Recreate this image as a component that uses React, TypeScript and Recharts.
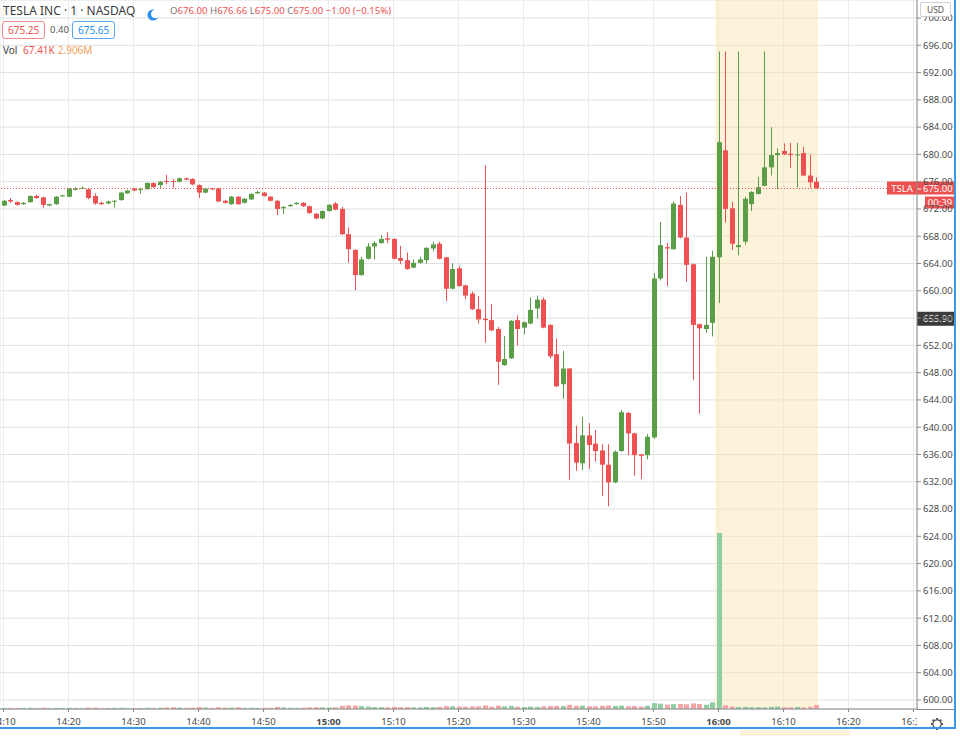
import React from 'react';
import {
  ComposedChart,
  Bar,
  XAxis,
  YAxis,
  CartesianGrid,
  ReferenceArea,
  ReferenceLine,
} from 'recharts';

// ---------- DATA ----------
// one-minute candles, index 0 = 14:10
const START_MINUTE = 14 * 60 + 10;

const OPEN = [
  672.5, 673.3, 673.0, 672.7, 673.0, 673.9, 673.7, 672.5, 672.7, 673.9,
  673.8, 674.8, 675.0, 674.9, 673.9, 672.9, 672.8, 673.1, 673.3, 674.3,
  675.0, 674.8, 674.9, 675.8, 675.5, 676.1, 676.1, 676.0, 676.5, 676.4,
  675.5, 674.4, 675.0, 675.0, 673.2, 672.7, 673.8, 672.9, 673.4, 674.3,
  674.4, 673.8, 673.2, 672.1, 672.4, 672.7, 672.9, 672.4, 671.3, 670.6,
  671.7, 672.8, 672.0, 668.3, 666.0, 662.3, 664.7, 666.5, 667.0, 667.7,
  667.6, 664.8, 664.5, 663.4, 664.1, 664.5, 666.2, 666.9, 664.9, 660.3,
  663.3, 660.8, 659.6, 657.3, 655.9, 655.7, 654.4, 649.1, 650.1, 655.7,
  654.6, 655.2, 657.4, 658.7, 655.0, 650.7, 646.3, 648.6, 637.7, 634.7,
  638.8, 637.6, 636.6, 634.5, 631.9, 636.5, 642.1, 639.1, 636.0, 635.9,
  638.5, 661.8, 666.4, 666.1, 672.6, 667.8, 663.9, 655.1, 654.4, 655.3,
  664.9, 680.6, 672.1, 666.4, 667.2, 672.7, 674.2, 675.4, 678.1, 679.9,
  680.5, 680.1, 679.9, 680.2, 676.9, 676.0,
];
const HIGH = [
  673.3, 673.6, 673.1, 673.0, 674.0, 674.1, 673.8, 672.8, 673.9, 674.1,
  675.1, 675.2, 675.3, 675.0, 674.3, 673.1, 673.2, 673.3, 674.5, 674.8,
  675.1, 675.1, 675.9, 675.9, 676.1, 677.0, 676.4, 676.6, 676.6, 676.5,
  675.6, 675.1, 675.1, 675.1, 673.3, 673.9, 673.9, 673.6, 674.3, 674.7,
  674.5, 673.9, 673.3, 672.4, 672.7, 673.0, 673.0, 672.5, 671.4, 671.8,
  672.7, 673.0, 672.3, 669.3, 666.1, 665.0, 667.0, 667.3, 668.2, 668.6,
  667.7, 666.6, 665.6, 664.6, 665.0, 666.4, 667.2, 667.2, 665.0, 664.0,
  663.6, 660.9, 659.9, 659.2, 678.4, 658.1, 654.7, 653.4, 655.7, 656.4,
  655.5, 659.0, 659.3, 659.0, 655.1, 653.0, 651.2, 648.7, 640.2, 641.5,
  640.6, 639.6, 637.5, 637.5, 636.6, 642.5, 642.2, 639.2, 636.1, 639.0,
  662.6, 670.1, 667.0, 673.1, 673.9, 674.4, 664.0, 655.2, 665.0, 665.9,
  695.1, 695.1, 673.0, 695.1, 673.8, 674.6, 676.7, 695.1, 684.0, 680.9,
  681.6, 681.7, 681.7, 681.1, 680.0, 676.66,
];
const LOW = [
  672.4, 672.9, 672.5, 672.6, 672.9, 673.5, 672.2, 672.4, 672.6, 673.8,
  673.7, 674.7, 674.9, 673.4, 672.6, 672.6, 672.7, 672.2, 673.2, 674.2,
  674.6, 674.2, 674.8, 675.1, 675.1, 675.6, 675.1, 675.9, 676.2, 675.5,
  673.6, 674.3, 674.8, 673.0, 672.8, 672.6, 672.6, 672.8, 673.3, 674.2,
  673.8, 673.1, 671.1, 671.2, 672.3, 672.6, 672.3, 671.3, 670.5, 670.5,
  671.6, 671.8, 668.2, 664.1, 660.1, 662.2, 664.6, 664.6, 666.9, 667.0,
  664.6, 663.9, 663.1, 663.3, 664.0, 664.0, 665.8, 664.6, 658.5, 660.2,
  660.6, 658.8, 657.2, 655.2, 652.4, 654.1, 646.2, 649.0, 650.0, 652.0,
  653.6, 655.1, 655.9, 654.5, 650.1, 645.9, 644.2, 632.3, 633.6, 633.7,
  633.9, 635.0, 629.9, 628.4, 631.8, 636.4, 635.9, 632.9, 632.4, 635.3,
  638.3, 661.5, 660.7, 666.0, 667.7, 661.3, 646.9, 642.0, 653.8, 653.3,
  658.2, 670.0, 666.0, 665.2, 666.7, 671.7, 674.1, 675.3, 676.9, 674.9,
  679.9, 678.0, 675.1, 676.8, 675.1, 675.0,
];
const CLOSE = [
  673.2, 673.1, 672.6, 672.9, 673.9, 673.6, 672.6, 672.7, 673.8, 674.0,
  675.0, 675.0, 675.1, 673.6, 672.8, 672.7, 673.1, 673.2, 674.4, 674.7,
  674.7, 674.9, 675.8, 675.2, 676.0, 676.0, 676.0, 676.5, 676.3, 675.6,
  674.4, 675.0, 674.9, 673.1, 672.9, 673.8, 672.7, 673.5, 674.2, 674.5,
  673.9, 673.2, 672.0, 672.3, 672.6, 672.9, 672.4, 671.4, 670.6, 671.7,
  672.6, 671.9, 668.3, 666.1, 662.3, 664.6, 666.5, 667.0, 667.6, 667.5,
  664.7, 664.4, 663.2, 664.1, 664.6, 666.3, 666.8, 664.7, 660.3, 663.2,
  660.7, 659.3, 657.3, 655.8, 655.7, 654.2, 649.6, 650.0, 655.6, 654.4,
  655.4, 657.2, 658.7, 654.6, 650.4, 646.0, 648.6, 637.6, 634.8, 638.8,
  637.4, 636.5, 634.5, 631.9, 636.4, 642.2, 639.1, 635.9, 635.8, 638.6,
  661.8, 666.7, 666.2, 672.8, 667.8, 663.8, 655.0, 654.5, 655.0, 665.0,
  681.8, 672.0, 666.9, 666.7, 673.5, 674.5, 675.2, 678.1, 679.9, 680.2,
  680.0, 679.9, 680.0, 676.9, 675.9, 675.0,
];
// volume in thousands of shares
const VOLUME_K = [
  18, 15, 14, 16, 20, 15, 22, 12, 18, 14,
  20, 15, 12, 24, 22, 14, 16, 18, 20, 14,
  15, 14, 22, 18, 20, 26, 30, 24, 20, 22,
  32, 24, 18, 30, 22, 24, 28, 20, 22, 18,
  20, 22, 34, 26, 20, 18, 22, 28, 30, 26,
  24, 28, 52, 60, 58, 48, 40, 32, 30, 28,
  36, 30, 32, 28, 26, 34, 30, 36, 50, 46,
  40, 38, 42, 44, 60, 40, 56, 44, 52, 38,
  34, 40, 36, 44, 48, 52, 50, 70, 54, 56,
  46, 44, 52, 58, 50, 56, 46, 48, 40, 54,
  96, 88, 72, 80, 84, 78, 92, 82, 70, 110,
  2906, 62, 40, 34, 36, 30, 32, 28, 36, 42,
  30, 28, 34, 26, 38, 67.41,
];
const TIME_TICK_LABELS = [
  '14:10', '14:20', '14:30', '14:40', '14:50', '15:00', '15:10', '15:20',
  '15:30', '15:40', '15:50', '16:00', '16:10', '16:20', '16:30',
];
const BOLD_TIME_LABELS = ['15:00', '16:00'];
const PRICE_TICKS = [
  600, 604, 608, 612, 616, 620, 624, 628, 632, 636, 640, 644, 648,
  652, 656, 660, 664, 668, 672, 676, 680, 684, 688, 692, 696, 700,
];
const LAST_PRICE = 675.0;
const COUNTDOWN = '00:39';
const MARKED_PRICE = 655.9;
const AFTER_HOURS_FROM = 109.5; // 16:00 candle
const AFTER_HOURS_TO = 125.3;

// ---------- STYLE ----------
const FONT = '"Noto Sans", "Liberation Sans", sans-serif';
const GREEN = '#5a9e48';
const RED = '#ee5151';
const VOL_GREEN = '#8fcea0';
const VOL_RED = '#f3a6a6';
const GRID_H = '#e0e0e0';
const GRID_V = '#ebebeb';
const AXIS = '#8a8a8a';
const BLUE = '#3a98e6';

const W = 960;
const H = 736;
const AXIS_W = 43;
const PLOT_W = W - AXIS_W;
const X_DOMAIN: [number, number] = [-0.54, 140.54];
const P_DOMAIN: [number, number] = [598.68, 702.64];
const V_DOMAIN: [number, number] = [0, 11700];

const data = OPEN.map((o, i) => ({
  i,
  open: o,
  high: HIGH[i],
  low: LOW[i],
  close: CLOSE[i],
  range: [LOW[i], HIGH[i]],
  vol: VOLUME_K[i],
}));
const TIME_TICKS = TIME_TICK_LABELS.map((_, k) => k * 10);

const Candle = (props: any) => {
  const { x, y, width, height, payload } = props;
  if (x == null || y == null) return null;
  const { open, close, high, low } = payload;
  const up = close >= open;
  const color = up ? GREEN : RED;
  const top = Math.min(y, y + height);
  const h = Math.abs(height);
  const ppu = h / (high - low || 1);
  const yO = top + (high - open) * ppu;
  const yC = top + (high - close) * ppu;
  const bTop = Math.min(yO, yC);
  const bH = Math.max(1, Math.abs(yO - yC));
  const cx = Math.round(x + width / 2) + 0.5;
  return (
    <g>
      <line x1={cx} x2={cx} y1={top} y2={top + h} stroke={color} strokeWidth={1} />
      <rect x={cx - 2.5} y={bTop} width={5} height={bH} fill={color} />
    </g>
  );
};

const VolBar = (props: any) => {
  const { x, y, width, height, payload } = props;
  if (x == null || y == null) return null;
  const color = payload.close >= payload.open ? VOL_GREEN : VOL_RED;
  const cx = Math.round(x + width / 2) + 0.5;
  return <rect x={cx - 2.5} y={Math.min(y, y + height)} width={5} height={Math.abs(height)} fill={color} />;
};

const fmtTime = (v: number) => {
  const m = START_MINUTE + v;
  const hh = Math.floor(m / 60);
  const mm = m % 60;
  return `${hh}:${mm < 10 ? '0' : ''}${mm}`;
};

const TimeTick = (props: any) => {
  const { x, y, payload } = props;
  const label = fmtTime(payload.value);
  const bold = BOLD_TIME_LABELS.includes(label);
  return (
    <svg x={0} y={0} width={PLOT_W} height={H} overflow="hidden">
      <text
        x={x}
        y={y}
        dy="0.71em"
        textAnchor="middle"
        fill="#4a4a4a"
        fontSize={9.5}
        fontWeight={bold ? 700 : 400}
        fontFamily={FONT}
      >
        {label}
      </text>
    </svg>
  );
};

const LastPriceTag = (props: any) => {
  const vb = props.viewBox || {};
  const y = vb.y;
  const right = vb.x + vb.width;
  if (y == null || isNaN(right)) return null;
  return (
    <g fontFamily={FONT} fontSize={9.5}>
      <rect x={right - 30} y={y - 7} width={30} height={13} fill={RED} />
      <text x={right - 15} y={y} dy="0.36em" textAnchor="middle" fill="#fff">TSLA</text>
      <rect x={right} y={y - 7} width={38} height={13} fill={RED} />
      <line x1={right} x2={right + 4} y1={y + 0.5} y2={y + 0.5} stroke="#fff" />
      <text x={right + 6} y={y} dy="0.36em" fill="#fff">{LAST_PRICE.toFixed(2)}</text>
      <rect x={right + 8} y={y + 8} width={30} height={12} fill={RED} />
      <text x={right + 23} y={y + 14} dy="0.36em" textAnchor="middle" fill="#fff">{COUNTDOWN}</text>
    </g>
  );
};

const MarkedTag = (props: any) => {
  const vb = props.viewBox || {};
  const y = vb.y;
  const right = vb.x + vb.width;
  if (y == null || isNaN(right)) return null;
  return (
    <g fontFamily={FONT} fontSize={9.5}>
      <rect x={right} y={y - 7} width={38} height={14} fill="#3b3b3b" />
      <text x={right + 6} y={y} dy="0.36em" fill="#fff">{MARKED_PRICE.toFixed(2)}</text>
    </g>
  );
};

const Moon = () => (
  <svg width={12} height={12} viewBox="0 0 12 12">
    <circle cx={6} cy={6} r={5.5} fill="#2a8ff0" />
    <circle cx={8.2} cy={5} r={4.2} fill="#fff" />
  </svg>
);

const Gear = () => (
  <svg width={14} height={14} viewBox="0 0 14 14">
    {[0, 45, 90, 135].map((a) => (
      <line
        key={a}
        x1={7}
        y1={1}
        x2={7}
        y2={13}
        stroke="#555"
        strokeWidth={2}
        transform={`rotate(${a} 7 7)`}
      />
    ))}
    <circle cx={7} cy={7} r={4.2} fill="#fff" stroke="#555" strokeWidth={1.2} />
    <circle cx={7} cy={7} r={1.6} fill="#fff" />
  </svg>
);

const boxStyle = (border: string, color: string): React.CSSProperties => ({
  position: 'absolute',
  top: 21,
  height: 16,
  padding: '0 5px',
  border: `1px solid ${border}`,
  borderRadius: 3,
  fontSize: 10,
  lineHeight: '16px',
  color,
  background: '#fff',
  whiteSpace: 'nowrap',
});

export default function App() {
  return (
    <div
      style={{
        position: 'absolute',
        left: 0,
        top: 0,
        width: W,
        height: H,
        overflow: 'hidden',
        background: '#fff',
        fontFamily: FONT,
      }}
    >
      <ComposedChart
        width={W}
        height={H}
        data={data}
        margin={{ top: 0, right: 0, bottom: 0, left: 0 }}
        style={{ fontFamily: FONT }}
      >
        <XAxis
          xAxisId="t"
          dataKey="i"
          type="number"
          domain={X_DOMAIN}
          allowDataOverflow
          ticks={TIME_TICKS}
          interval={0}
          height={27}
          tickSize={3}
          tickMargin={6}
          tick={<TimeTick />}
          axisLine={{ stroke: AXIS }}
          tickLine={{ stroke: AXIS }}
        />
        <XAxis xAxisId="v" dataKey="i" type="number" domain={X_DOMAIN} allowDataOverflow hide />
        <YAxis
          yAxisId="p"
          orientation="right"
          width={AXIS_W}
          domain={P_DOMAIN}
          allowDataOverflow
          ticks={PRICE_TICKS}
          interval={0}
          tickFormatter={(v: number) => v.toFixed(2)}
          tickSize={4}
          tickMargin={2}
          tick={{ fill: '#4a4a4a', fontSize: 9.5, fontFamily: FONT }}
          axisLine={{ stroke: AXIS }}
          tickLine={{ stroke: AXIS }}
        />
        <YAxis yAxisId="v" hide domain={V_DOMAIN} allowDataOverflow />
        <CartesianGrid xAxisId="t" yAxisId="p" vertical={false} stroke={GRID_H} />
        <CartesianGrid xAxisId="t" yAxisId="p" horizontal={false} stroke={GRID_V} />
        <ReferenceArea
          xAxisId="t"
          yAxisId="p"
          x1={AFTER_HOURS_FROM}
          x2={AFTER_HOURS_TO}
          fill="#fbe4ad"
          fillOpacity={0.45}
          stroke="none"
          ifOverflow="hidden"
        />
        <Bar
          xAxisId="v"
          yAxisId="v"
          dataKey="vol"
          barSize={5}
          shape={<VolBar />}
          isAnimationActive={false}
        />
        <Bar
          xAxisId="t"
          yAxisId="p"
          dataKey="range"
          barSize={5}
          shape={<Candle />}
          isAnimationActive={false}
        />
        <ReferenceLine
          xAxisId="t"
          yAxisId="p"
          y={LAST_PRICE}
          stroke={RED}
          strokeDasharray="1 2"
          strokeWidth={1}
          label={(p: any) => <LastPriceTag {...p} />}
        />
        <ReferenceLine
          xAxisId="t"
          yAxisId="p"
          y={MARKED_PRICE}
          stroke="none"
          label={(p: any) => <MarkedTag {...p} />}
        />
      </ComposedChart>

      {/* header legend */}
      <div style={{ position: 'absolute', left: 3, top: 2, fontSize: 12, color: '#3c3c3c', whiteSpace: 'nowrap' }}>
        TESLA INC · 1 · NASDAQ
      </div>
      <div style={{ position: 'absolute', left: 147, top: 4 }}>
        <Moon />
      </div>
      <div
        style={{
          position: 'absolute',
          left: 170,
          top: 4,
          fontSize: 9.6,
          whiteSpace: 'nowrap',
          color: '#ef5350',
        }}
      >
        <span style={{ color: '#777' }}>O</span>676.00 <span style={{ color: '#777' }}>H</span>676.66{' '}
        <span style={{ color: '#777' }}>L</span>675.00 <span style={{ color: '#777' }}>C</span>675.00 −1.00 (−0.15%)
      </div>
      <div style={{ ...boxStyle('#f08a8a', '#ef5350'), left: 2 }}>675.25</div>
      <div style={{ position: 'absolute', left: 50, top: 22, fontSize: 9.5, lineHeight: '16px', color: '#555' }}>0.40</div>
      <div style={{ ...boxStyle('#5aa9f0', '#2a8ff0'), left: 72 }}>675.65</div>
      <div style={{ position: 'absolute', left: 3, top: 43, fontSize: 10, whiteSpace: 'nowrap', color: '#444' }}>
        Vol <span style={{ color: '#ef5350', marginLeft: 3 }}>67.41K</span>
        <span style={{ color: '#f5a15a', marginLeft: 3 }}>2.906M</span>
      </div>

      {/* currency badge */}
      <div
        style={{
          position: 'absolute',
          left: 920,
          top: 2,
          width: 29,
          height: 13,
          border: '1px solid #cfcfcf',
          borderRadius: 2,
          background: '#fff',
          fontSize: 8.5,
          lineHeight: '13px',
          textAlign: 'center',
          color: '#555',
        }}
      >
        USD
      </div>

      {/* axis corner & frame */}
      <div style={{ position: 'absolute', left: PLOT_W, top: 709, width: 38, height: 1, background: AXIS }} />
      <div style={{ position: 'absolute', left: 930, top: 714 }}>
        <Gear />
      </div>
      <div style={{ position: 'absolute', left: 954, top: 0, width: 2, height: 729, background: BLUE }} />
      <div style={{ position: 'absolute', left: 0, top: 727, width: 956, height: 2, background: BLUE }} />
      <div style={{ position: 'absolute', left: 740, top: 730, width: 110, height: 6, background: '#fdf3dc' }} />
    </div>
  );
}
